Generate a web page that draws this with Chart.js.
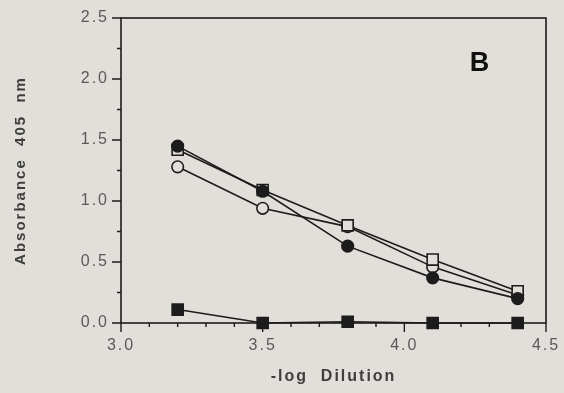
<!DOCTYPE html>
<html>
<head>
<meta charset="utf-8">
<script src="https://cdn.jsdelivr.net/npm/chart.js@4/dist/chart.umd.min.js"></script>
<style>
  html, body { margin: 0; padding: 0; background: #e2dfdb; }
  #wrap { width: 564px; height: 393px; }
</style>
</head>
<body>
<div id="wrap"><canvas id="chart" width="564" height="393"></canvas></div>
<script>
// -log dilution for every series
const dilution = [3.2, 3.5, 3.8, 4.1, 4.4];
// absorbance at 405 nm
const filledCircle = [1.45, 1.08, 0.63, 0.37, 0.20];
const openSquare = [1.42, 1.09, 0.80, 0.52, 0.26];
const openCircle = [1.28, 0.94, 0.79, 0.46, 0.23];
const filledSquare = [0.11, 0.00, 0.01, 0.00, 0.00];
// labelled (major) ticks; minor ticks fall between them
const xMajor = [3.0, 3.5, 4.0, 4.5];
const yMajor = [0.0, 0.5, 1.0, 1.5, 2.0, 2.5];
const panelLabel = 'B';

const bg = '#e2dfdb';
const ink = '#1c1c1c';
const isMajor = (list, v) => list.some(m => Math.abs(m - v) < 1e-6);
const pts = ys => ys.map((y, i) => ({ x: dilution[i], y }));

function series(data, style, filled) {
  return {
    data: pts(data),
    showLine: true,
    clip: false,
    borderColor: ink,
    borderWidth: 1.6,
    pointStyle: style,
    pointRadius: style === 'rect' ? 7.8 : 5.8,
    pointBorderWidth: 1.6,
    pointBorderColor: ink,
    pointBackgroundColor: filled ? ink : bg
  };
}

// box around the plot, tick marks, the panel letter
const frame = {
  id: 'frame',
  beforeDraw(chart) {
    chart.ctx.letterSpacing = '2px';
  },
  beforeDatasetsDraw(chart) {
    const { ctx, chartArea: a, scales } = chart;
    ctx.save();
    ctx.strokeStyle = ink;
    ctx.lineWidth = 1.6;
    ctx.strokeRect(a.left, a.top, a.right - a.left, a.bottom - a.top);
    ctx.lineWidth = 1.4;
    ctx.beginPath();
    scales.x.ticks.forEach(t => {
      const px = scales.x.getPixelForValue(t.value);
      const len = isMajor(xMajor, t.value) ? 9 : 4;
      ctx.moveTo(px, a.bottom);
      ctx.lineTo(px, a.bottom + len);
    });
    scales.y.ticks.forEach(t => {
      const py = scales.y.getPixelForValue(t.value);
      const len = isMajor(yMajor, t.value) ? 9 : 4;
      ctx.moveTo(a.left, py);
      ctx.lineTo(a.left - len, py);
    });
    ctx.stroke();
    ctx.restore();
  },
  afterDraw(chart) {
    const { ctx, scales } = chart;
    ctx.save();
    ctx.letterSpacing = '0px';
    ctx.fillStyle = '#111';
    ctx.font = 'bold 27px "Liberation Sans", Arial, sans-serif';
    ctx.textAlign = 'center';
    ctx.textBaseline = 'middle';
    ctx.fillText(panelLabel, scales.x.getPixelForValue(4.265), scales.y.getPixelForValue(2.13));
    ctx.restore();
  }
};

const tickFont = { family: '"Liberation Sans", Arial, sans-serif', size: 16 };
const titleFont = { family: '"Liberation Sans", Arial, sans-serif', size: 15, weight: 'bold' };

new Chart(document.getElementById('chart'), {
  type: 'scatter',
  data: {
    datasets: [
      series(filledCircle, 'circle', true),
      series(openSquare, 'rect', false),
      series(openCircle, 'circle', false),
      series(filledSquare, 'rect', true)
    ]
  },
  options: {
    responsive: false,
    animation: false,
    layout: { padding: { top: 18, right: 18, left: 0, bottom: 0 } },
    plugins: { legend: { display: false }, tooltip: { enabled: false } },
    scales: {
      x: {
        type: 'linear',
        min: 3.0,
        max: 4.5,
        afterFit: s => { s.height = 70; },
        grid: { drawOnChartArea: false, tickLength: 9, tickColor: 'transparent' },
        border: { display: false },
        ticks: {
          stepSize: 0.1,
          autoSkip: false,
          maxRotation: 0,
          padding: 4,
          color: '#5a5a5a',
          font: tickFont,
          callback: v => isMajor(xMajor, v) ? v.toFixed(1) : ''
        },
        title: {
          display: true,
          text: '-log  Dilution',
          color: '#3e3e3e',
          font: { ...titleFont, size: 16 },
          padding: { top: 0, bottom: 7 }
        }
      },
      y: {
        type: 'linear',
        min: 0,
        max: 2.5,
        afterFit: s => { s.width = 121; },
        grid: { drawOnChartArea: false, tickLength: 9, tickColor: 'transparent' },
        border: { display: false },
        ticks: {
          stepSize: 0.25,
          autoSkip: false,
          padding: 3,
          color: '#5a5a5a',
          font: tickFont,
          callback: v => isMajor(yMajor, v) ? v.toFixed(1) : ''
        },
        title: {
          display: true,
          text: 'Absorbance  405  nm',
          color: '#3e3e3e',
          font: titleFont,
          padding: { top: 12, bottom: 0 }
        }
      }
    }
  },
  plugins: [frame]
});
</script>
</body>
</html>
